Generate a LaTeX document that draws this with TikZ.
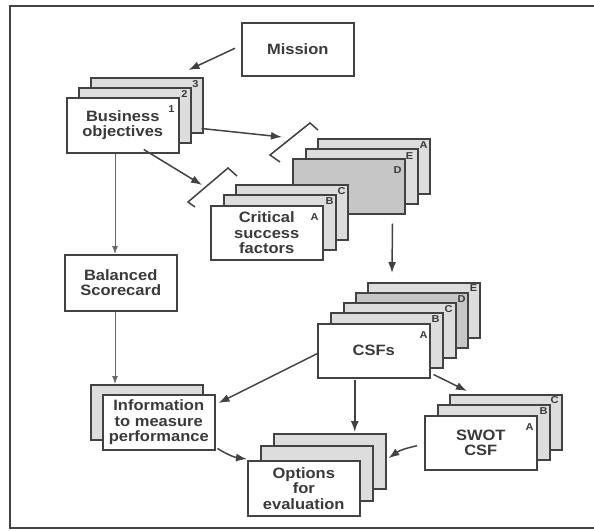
\documentclass[tikz,border=0pt]{standalone}
\usepackage{fontspec}
\setmainfont{Liberation Sans}[FakeStretch=1.1]
\usetikzlibrary{arrows.meta,calc}
\definecolor{linegray}{RGB}{66,66,66}
\definecolor{textgray}{RGB}{58,58,58}
\definecolor{cardlight}{RGB}{221,221,221}
\definecolor{carddark}{RGB}{198,198,198}
\tikzset{every picture/.style={line width=0.75pt}}
\tikzset{
  card/.style={draw=linegray, line width=1.5, fill=white, rectangle, anchor=north west,
    minimum width=112, minimum height=55, inner sep=0, align=center, text=textgray,
    font=\bfseries\fontsize{15}{15.5}\selectfont},
  backcard/.style={fill=cardlight},
  darkcard/.style={fill=carddark},
  tag/.style={inner sep=0, text=textgray, font=\bfseries\fontsize{10}{10}\selectfont},
  link/.style={draw=linegray, line width=1.5, -{Latex[length=11,width=8]}},
  thinlink/.style={draw=linegray!80, line width=1, -{Latex[length=8,width=6]}},
  bracket/.style={draw=linegray, line width=1.5}
}

\begin{document}
\begin{tikzpicture}[x=1pt,y=1pt,yscale=-1,xscale=1]
\useasboundingbox (0,0) rectangle (594,530);

%Shape: Frame
\draw [linegray, line width=1.6] (594,6) -- (10,6) -- (10,528) -- (594,528) ;

%Shape: Mission
\node [card, minimum height=53] (mission) at (241,22) {Mission};

%Shape: Business objectives stack
\node [card, backcard] (bo3) at (90,77) {};
\node [card, backcard] (bo2) at (78,87) {};
\node [card] (bo1) at (66,97) {Business\\objectives};
\node [tag] at ($(bo1.north east)+(-8,12)$) {1};
\node [tag] at ($(bo2.north east)+(-7,7)$) {2};
\node [tag] at ($(bo3.north east)+(-8,7)$) {3};

%Shape: Balanced Scorecard
\node [card, minimum height=56] (bsc) at (64,254) {Balanced\\Scorecard};

%Shape: Information stack
\node [card, backcard] (info2) at (90,384) {};
\node [card] (info1) at (102,394) {Information\\to measure\\performance};

%Shape: D stack
\node [card, backcard] (da) at (317,138) {};
\node [card, backcard] (de) at (305,148) {};
\node [card, darkcard] (dd) at (292,158) {};
\node [tag] at ($(dd.north east)+(-8,12)$) {D};
\node [tag] at ($(de.north east)+(-9,8)$) {E};
\node [tag] at ($(da.north east)+(-7,7)$) {A};

%Shape: Critical success factors stack
\node [card, backcard] (csfc) at (235,184) {};
\node [card, backcard] (csfb) at (223,194) {};
\node [card, minimum height=54] (csfa) at (210,205) {Critical\\success\\factors};
\node [tag] at ($(csfa.north east)+(-9,12)$) {A};
\node [tag] at ($(csfb.north east)+(-7,7)$) {B};
\node [tag] at ($(csfc.north east)+(-7,7)$) {C};

%Shape: CSFs stack
\node [card, backcard] (cse) at (367,282) {};
\node [card, darkcard] (csd) at (355,292) {};
\node [card, backcard] (csc) at (343,302) {};
\node [card, backcard] (csb) at (330,312) {};
\node [card, minimum height=54] (csa) at (317,323) {CSFs};
\node [tag] at ($(csa.north east)+(-7,12)$) {A};
\node [tag] at ($(csb.north east)+(-8,7)$) {B};
\node [tag] at ($(csc.north east)+(-8,7)$) {C};
\node [tag] at ($(csd.north east)+(-7,7)$) {D};
\node [tag] at ($(cse.north east)+(-7,6)$) {E};

%Shape: SWOT stack
\node [card, backcard] (swc) at (449,394) {};
\node [card, backcard] (swb) at (437,404) {};
\node [card, minimum height=54] (swa) at (424,415) {SWOT\\CSF};
\node [tag] at ($(swa.north east)+(-8,12)$) {A};
\node [tag] at ($(swb.north east)+(-7,7)$) {B};
\node [tag] at ($(swc.north east)+(-8,6)$) {C};

%Shape: Options stack
\node [card, backcard] (opt3) at (273,433) {};
\node [card, backcard] (opt2) at (260,445) {};
\node [card] (opt1) at (247,460) {Options\\for\\evaluation};

%Shape: Brackets
\coordinate (gapa) at (282,137);
\coordinate (gapb) at (202,185);
\draw [bracket] (280,162) -- (270,155) -- (310,123) -- (318,130) ;
\draw [bracket] (195,207) -- (188,202) -- (228,168) -- (237,176) ;

%Straight Lines
\draw [link] ($(mission.west)+(-6,-1)$) -- ($(bo3.north east)+(-15,-7)$) ;
\draw [link] ($(bo3.south east)+(-2,-5)$) -- (gapa) ;
\draw [link] ($(bo1.south)+(21,-4)$) -- (gapb) ;
\draw [link] ($(dd.south east)+(-13,9)$) -- ($(cse.north west)+(25,-9)$) ;
\draw [link] ($(csa.south east)+(3,-4)$) -- ($(swc.north west)+(18,-3)$) ;
\draw [link] ($(csa.south)+(-19,1)$) -- ($(opt3.north)+(25,-1)$) ;
\draw [link] ($(csa.west)+(0,3)$) -- ($(info1.north east)+(3,9)$) ;
\draw [thinlink] ($(bo1.south west)+(49,0)$) -- ($(bsc.north west)+(51,0)$) ;
\draw [thinlink] ($(bsc.south west)+(51,0)$) -- ($(info2.north west)+(25,0)$) ;

%Curve Lines
\draw [link] ($(swa.west)+(-7,3)$) to [bend left=12] ($(opt2.east)+(15,-15)$) ;
\draw [link] ($(info1.south east)+(2,-2)$) to [bend left=12] ($(opt1.north west)+(0,-1)$) ;

\end{tikzpicture}
\end{document}
